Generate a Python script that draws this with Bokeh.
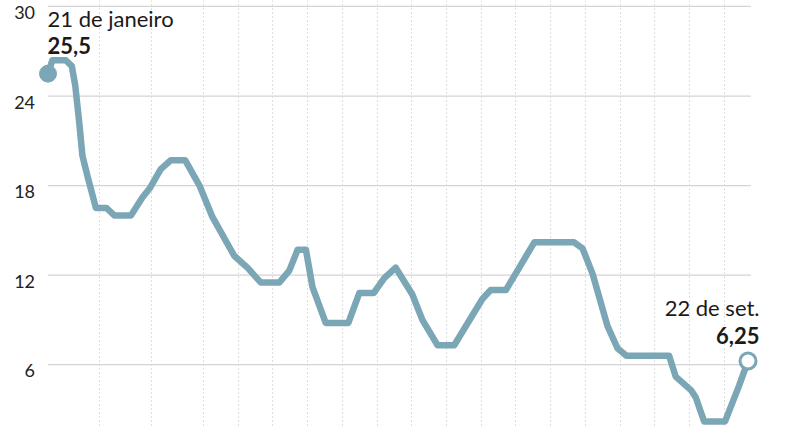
from bokeh.plotting import figure
from bokeh.models import Range1d
from bokeh.core.properties import value
from bokeh.embed import file_html
from bokeh.resources import INLINE

# dias desde 21 de janeiro, e o valor
dias = [0, 1.5, 6.2, 8.3, 9.5, 10.9, 12.0, 13.8, 16.7, 20.4, 23.1, 28.9, 32.9, 35.4,
        39.3, 42.8, 47.8, 52.8, 57.3, 64.9, 69.5, 74.2, 80.6, 84.1, 87.0, 89.9, 92.2,
        96.8, 104.7, 108.5, 113.5, 117.2, 121.2, 127.0, 130.5, 135.8, 141.6, 151.4,
        154.3, 159.6, 169.5, 183.4, 186.3, 189.8, 195.0, 198.5, 201.6, 216.5, 218.8,
        224.1, 225.8, 228.7, 236.0, 240.9, 244]
valores = [25.5, 26.4, 26.4, 26.0, 24.7, 22.2, 20.0, 18.6, 16.5, 16.5, 16.0, 16.0, 17.2, 17.8,
           19.1, 19.7, 19.7, 18.0, 15.9, 13.3, 12.5, 11.5, 11.5, 12.3, 13.7, 13.7, 11.2,
           8.8, 8.8, 10.8, 10.8, 11.8, 12.5, 10.7, 9.0, 7.3, 7.3, 10.4,
           11.0, 11.0, 14.2, 14.2, 13.8, 12.1, 8.6, 7.1, 6.6, 6.6, 5.2,
           4.3, 3.8, 2.2, 2.2, 4.6, 6.25]

# linhas verticais pontilhadas (em dias)
marcas = [18, 36, 54.2, 66.4, 78.4, 90.5, 102.6, 114.7, 126.8, 138.9, 151.0,
          163.1, 175.2, 187.3, 199.4, 211.5, 223.6, 235.7]

ticks = [6, 12, 18, 24, 30]
rotulos = ["6", "12", "18", "24", "30"]

inicio_txt = ["21 de janeiro", "25,5"]
fim_txt = ["22 de set.", "6,25"]

COR = "#7ba6b6"
FONTE = value("Lato")

p = figure(width=770, height=426, output_backend="svg", toolbar_location=None,
           x_range=Range1d(-16.56, 251.84), y_range=Range1d(1.86, 30.4),
           x_axis_type=None, y_axis_type=None, min_border=0)
p.outline_line_color = None
p.background_fill_color = "white"

p.vspan(x=marcas, line_color="#bdbdbd", line_width=1, line_dash="1 3")
p.segment(x0=dias[0], y0=ticks, x1=dias[-1] + 1, y1=ticks,
          line_color="#d4d4d4", line_width=1.2)

p.line(dias, valores, line_color=COR, line_width=6.5, line_join="round", line_cap="round")
p.scatter([dias[0]], [valores[0]], size=17, fill_color=COR, line_color=COR)
p.scatter([dias[-1]], [valores[-1]], size=16, fill_color="white", line_color=COR, line_width=3)

# rótulos do eixo y
p.text(x=dias[0], y=ticks, text=rotulos, x_offset=-13, y_offset=6,
       text_align="right", text_baseline="middle", text_font=FONTE,
       text_font_size="18px", text_color="#222222")

# anotações
p.text(x=[dias[0]], y=[valores[0]], text=[inicio_txt[0]], x_offset=-0.5, y_offset=-55,
       text_align="left", text_baseline="alphabetic", text_font=FONTE,
       text_font_size="22px", text_color="#1a1a1a")
p.text(x=[dias[0]], y=[valores[0]], text=[inicio_txt[1]], x_offset=-0.5, y_offset=-28,
       text_align="left", text_baseline="alphabetic", text_font=FONTE,
       text_font_size="22px", text_font_style="bold", text_color="#1a1a1a")
p.text(x=[dias[-1]], y=[valores[-1]], text=[fim_txt[0]], x_offset=11.5, y_offset=-53,
       text_align="right", text_baseline="alphabetic", text_font=FONTE,
       text_font_size="22px", text_color="#1a1a1a")
p.text(x=[dias[-1]], y=[valores[-1]], text=[fim_txt[1]], x_offset=11.5, y_offset=-25.3,
       text_align="right", text_baseline="alphabetic", text_font=FONTE,
       text_font_size="22px", text_font_style="bold", text_color="#1a1a1a")

open("out.html", "w").write(file_html(p, INLINE))
